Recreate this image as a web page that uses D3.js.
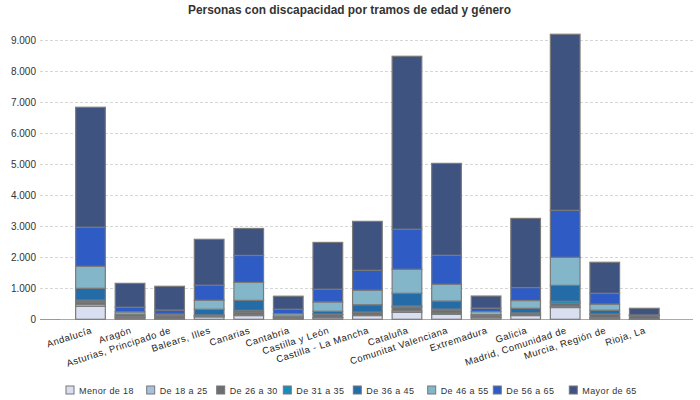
<!DOCTYPE html>
<html>
<head>
<meta charset="utf-8">
<script src="https://cdn.jsdelivr.net/npm/d3@7"></script>
<style>
  body { margin: 0; background: #fff; }
  svg { display: block; }
  text { font-family: "Liberation Sans", Arial, sans-serif; }
</style>
</head>
<body>
<svg id="chart" width="700" height="400"></svg>
<script>
const title = "Personas con discapacidad por tramos de edad y género";

const categories = ["Andalucía","Aragón","Asturias, Principado de","Balears, Illes","Canarias","Cantabria","Castilla y León","Castilla - La Mancha","Cataluña","Comunitat Valenciana","Extremadura","Galicia","Madrid, Comunidad de","Murcia, Región de","Rioja, La"];

const seriesNames = ["Menor de 18","De 18 a 25","De 26 a 30","De 31 a 35","De 36 a 45","De 46 a 55","De 56 a 65","Mayor de 65"];

const menor18 = [420, 40, 20, 80, 120, 20, 50, 120, 225, 160, 50, 120, 380, 40, 10];
const de18a25 = [60, 20, 10, 10, 30, 10, 10, 15, 50, 40, 10, 20, 45, 15, 5];
const de26a30 = [80, 30, 80, 40, 80, 40, 90, 90, 110, 100, 50, 50, 90, 100, 100];
const de31a35 = [60, 20, 5, 10, 60, 10, 20, 10, 45, 30, 10, 15, 65, 15, 5];
const de36a45 = [380, 50, 15, 185, 320, 25, 90, 235, 410, 260, 30, 150, 515, 125, 10];
const de46a55 = [710, 80, 40, 290, 580, 75, 300, 470, 775, 540, 100, 250, 905, 195, 5];
const de56a65 = [1260, 150, 130, 485, 870, 145, 410, 640, 1290, 935, 110, 420, 1515, 350, 5];
const mayor65 = [3870, 770, 765, 1480, 870, 420, 1510, 1580, 5580, 2965, 390, 2230, 5680, 1000, 215];

const yTicks = [0, 1000, 2000, 3000, 4000, 5000, 6000, 7000, 8000, 9000];

const colors = ["#d9def0","#a6c0e0","#6b6e73","#1b8cba","#236ca8","#83b6c8","#2f5bc4","#3e537f"];

const seriesValues = [menor18, de18a25, de26a30, de31a35, de36a45, de46a55, de56a65, mayor65];

const table = categories.map((c, i) => {
  const row = { cat: c };
  seriesNames.forEach((s, k) => row[s] = seriesValues[k][i]);
  return row;
});

const svg = d3.select("#chart");

const x = d3.scaleBand().domain(categories).range([70.7, 664.1]).paddingInner(0.25).paddingOuter(0.125);
const y = d3.scaleLinear().domain([0, 9000]).range([319.3, 40.3]);

const loc = d3.formatLocale({ decimal: ",", thousands: ".", grouping: [3], currency: ["", "€"] });
const fmt = loc.format(",d");

// Title
svg.append("text")
  .attr("x", 349.5).attr("y", 14)
  .attr("text-anchor", "middle")
  .attr("font-size", 13).attr("font-weight", "bold")
  .attr("fill", "#333")
  .attr("textLength", 323).attr("lengthAdjust", "spacingAndGlyphs")
  .text(title);

// Grid lines
const yAxis = d3.axisLeft(y).tickValues(yTicks).tickFormat(fmt).tickSize(0).tickPadding(0);
const gAxis = svg.append("g");
gAxis.selectAll("line.grid").data(yTicks).join("line")
  .attr("class", "grid")
  .attr("x1", 40).attr("x2", 693)
  .attr("y1", d => Math.round(y(d)) + 0.5).attr("y2", d => Math.round(y(d)) + 0.5)
  .attr("stroke", d => d === 0 ? "#aaa" : "#d6d6d6")
  .attr("stroke-width", 1)
  .attr("stroke-dasharray", d => d === 0 ? null : "3,2");
svg.append("line")
  .attr("x1", 40).attr("x2", 60)
  .attr("y1", Math.round(y(0)) + 0.5).attr("y2", Math.round(y(0)) + 0.5)
  .attr("stroke", "#999");

const ga = svg.append("g").attr("transform", "translate(36,0)").call(yAxis);
ga.select(".domain").remove();
ga.selectAll("text").attr("font-size", 10).attr("fill", "#333")
  .attr("font-family", "'Liberation Sans', Arial, sans-serif");

// Bars
const stack = d3.stack().keys(seriesNames);
const stacked = stack(table);

const gBars = svg.append("g");
stacked.forEach((layer, k) => {
  gBars.append("g")
    .selectAll("rect").data(layer).join("rect")
    .attr("x", d => x(d.data.cat))
    .attr("width", x.bandwidth())
    .attr("y", d => y(d[1]))
    .attr("height", d => Math.max(0, y(d[0]) - y(d[1])))
    .attr("fill", colors[k])
    .attr("stroke", "#7a7a7a")
    .attr("stroke-width", 1.2);
});

// X labels
const gx = svg.append("g");
gx.selectAll("text").data(categories).join("text")
  .attr("transform", d => `translate(${x(d) + x.bandwidth() / 2 + 2},333) rotate(-18)`)
  .attr("text-anchor", "end")
  .attr("font-size", 9.5)
  .attr("letter-spacing", 0.5)
  .attr("fill", "#222")
  .text(d => d);

// Legend
const legendX = [66, 146.7, 216.7, 283.3, 353.3, 427.7, 493.3, 569.3];
const gl = svg.append("g");
seriesNames.forEach((s, k) => {
  gl.append("rect")
    .attr("x", legendX[k]).attr("y", 386)
    .attr("width", 8).attr("height", 8)
    .attr("fill", colors[k])
    .attr("stroke", "#777").attr("stroke-width", 1);
  gl.append("text")
    .attr("x", legendX[k] + 13).attr("y", 393.5)
    .attr("font-size", 9)
    .attr("letter-spacing", 0.4)
    .attr("fill", "#333")
    .text(s);
});
</script>
</body>
</html>
